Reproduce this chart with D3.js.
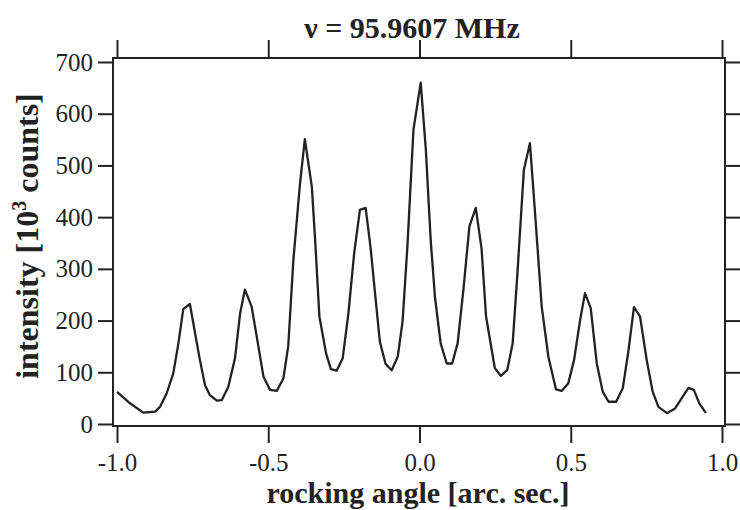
<!DOCTYPE html>
<html>
<head>
<meta charset="utf-8">
<script src='https://d3js.org/d3.v7.min.js'></script>
<style>
  body {
    margin: 0;
    background-color: white;
  }

  svg text {
    font-family: 'Liberation Serif', 'Times New Roman', serif;
  }

  .tick text {
    font-size: 25px;
    fill: #222;
  }

  .tick line {
    stroke: #222;
    stroke-width: 2px;
  }
</style>
</head>

<body>
  <svg width=740 height=510></svg>
  <script>
    // rocking angle [arc. sec.] and intensity [10^3 counts]
    var angle = [-1.000, -0.957, -0.913, -0.874, -0.858, -0.836, -0.814, -0.797, -0.781, -0.759,
      -0.742, -0.726, -0.709, -0.693, -0.670, -0.654, -0.632, -0.610, -0.593, -0.577,
      -0.555, -0.538, -0.516, -0.494, -0.472, -0.450, -0.434, -0.417, -0.395, -0.379,
      -0.356, -0.345, -0.331, -0.309, -0.293, -0.274, -0.254, -0.235, -0.216, -0.197,
      -0.178, -0.161, -0.147, -0.131, -0.112, -0.092, -0.072, -0.056, -0.040, -0.020,
      0.004, 0.021, 0.037, 0.051, 0.070, 0.090, 0.108, 0.126, 0.145, 0.165,
      0.186, 0.205, 0.220, 0.249, 0.269, 0.290, 0.308, 0.323, 0.345, 0.365,
      0.382, 0.404, 0.426, 0.451, 0.470, 0.492, 0.511, 0.531, 0.547, 0.566,
      0.586, 0.606, 0.625, 0.650, 0.672, 0.691, 0.709, 0.729, 0.751, 0.771,
      0.790, 0.818, 0.845, 0.867, 0.889, 0.907, 0.925, 0.947];
    var intensity = [62, 40, 22, 24, 33, 59, 98, 156, 222, 232,
      176, 124, 75, 56, 45, 46, 72, 127, 214, 260,
      227, 169, 92, 66, 64, 88, 150, 317, 465, 551,
      459, 356, 208, 137, 106, 103, 127, 214, 330, 414,
      418, 337, 253, 159, 116, 104, 130, 198, 343, 569,
      660, 530, 356, 246, 156, 117, 117, 156, 259, 382,
      418, 340, 208, 108, 93, 104, 156, 285, 491, 543,
      408, 227, 130, 67, 64, 79, 124, 201, 253, 224,
      117, 62, 43, 43, 69, 143, 226, 208, 124, 62,
      33, 21, 30, 50, 70, 66, 40, 21];

    var xTicks = [-1.0, -0.5, 0.0, 0.5, 1.0];
    var yTicks = [0, 100, 200, 300, 400, 500, 600, 700];

    var svg = d3.select("svg");

    var x = d3.scaleLinear().domain([-1, 1]).range([117, 722]);
    var y = d3.scaleLinear().domain([0, 700]).range([424, 62]);

    // frame
    svg.append("rect")
      .attr("x", 113).attr("y", 58)
      .attr("width", 612).attr("height", 368)
      .attr("fill", "none")
      .attr("stroke", "#222")
      .attr("stroke-width", 2);

    // left axis
    var gl = svg.append("g")
      .attr("transform", "translate(113,0)")
      .call(d3.axisLeft(y).tickValues(yTicks).tickSize(15).tickPadding(5)
        .tickFormat(function (d) { return d; }));
    gl.select(".domain").remove();

    // right axis, ticks only
    var gr = svg.append("g")
      .attr("transform", "translate(725,0)")
      .call(d3.axisRight(y).tickValues(yTicks).tickSize(15).tickFormat(""));
    gr.select(".domain").remove();

    // bottom axis (plain hyphen for the minus, as in the figure)
    var gb = svg.append("g")
      .attr("transform", "translate(0,426)")
      .call(d3.axisBottom(x).tickValues(xTicks).tickSize(17).tickPadding(10)
        .tickFormat(function (d) { return d.toFixed(1); }));
    gb.select(".domain").remove();

    // top axis, ticks only
    var gt = svg.append("g")
      .attr("transform", "translate(0,58)")
      .call(d3.axisTop(x).tickValues(xTicks).tickSize(18).tickFormat(""));
    gt.select(".domain").remove();

    // the curve
    var line = d3.line()
      .x(function (d, i) { return x(angle[i]); })
      .y(function (d) { return y(d); });

    svg.append("path")
      .datum(intensity)
      .attr("d", line)
      .attr("fill", "none")
      .attr("stroke", "#222")
      .attr("stroke-width", 2.3)
      .attr("stroke-linejoin", "round");

    // title
    svg.append("text")
      .attr("x", 412).attr("y", 38)
      .attr("text-anchor", "middle")
      .attr("font-weight", "bold")
      .attr("font-size", 30)
      .attr("fill", "#222")
      .text("\u03bd = 95.9607 MHz");

    // x label
    svg.append("text")
      .attr("x", 418).attr("y", 503)
      .attr("text-anchor", "middle")
      .attr("font-weight", "bold")
      .attr("font-size", 30)
      .attr("fill", "#222")
      .text("rocking angle [arc. sec.]");

    // y label
    var yl = svg.append("text")
      .attr("transform", "translate(38,236) rotate(-90)")
      .attr("text-anchor", "middle")
      .attr("font-weight", "bold")
      .attr("font-size", 32)
      .attr("fill", "#222");
    yl.append("tspan").text("intensity [10");
    yl.append("tspan").attr("dy", -12).attr("font-size", 20).text("3");
    yl.append("tspan").attr("dy", 12).text(" counts]");
  </script>
</body>

</html>
